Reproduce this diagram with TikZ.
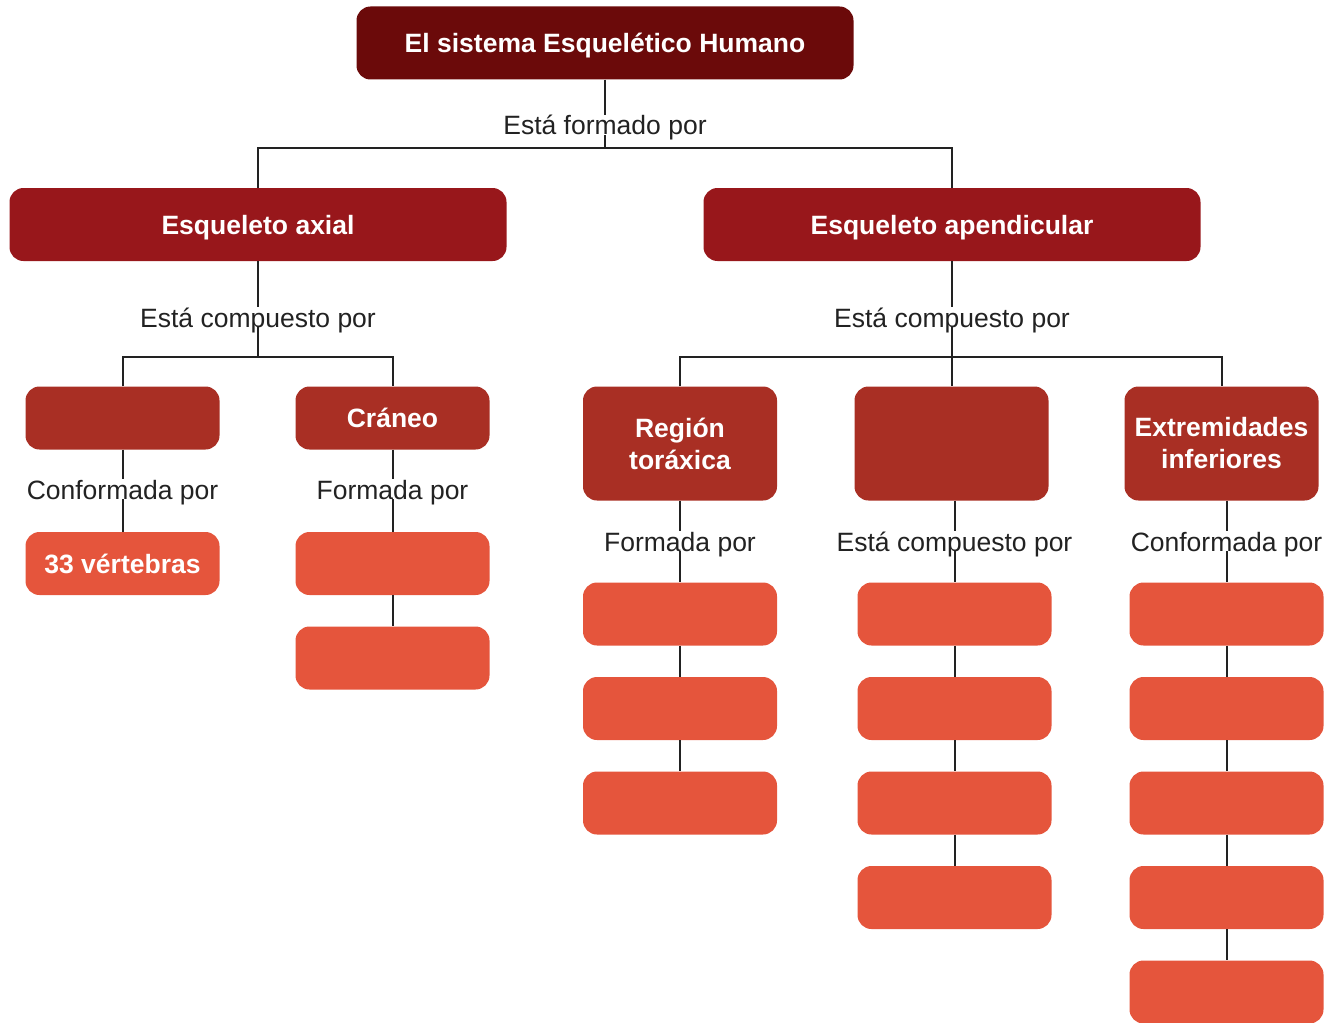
\documentclass[tikz,border=0pt]{standalone}
\usepackage{fontspec}
\setmainfont{Liberation Sans}
\definecolor{titlered}{HTML}{6B0A0A}
\definecolor{mainred}{HTML}{98171B}
\definecolor{subred}{HTML}{A92F24}
\definecolor{leafred}{HTML}{E5553C}
\definecolor{labelgray}{HTML}{222222}
\definecolor{linegray}{HTML}{222222}

\begin{document}
\begin{tikzpicture}[x=1pt, y=-1pt,
  box/.style={rounded corners=14pt, text=white, align=center, inner sep=0pt,
    font=\bfseries\fontsize{26.5}{32}\selectfont},
  onebox/.style={box, text height=21pt, text depth=2pt},
  titlebox/.style={onebox, fill=titlered, minimum width=497pt, minimum height=73pt},
  mainbox/.style={onebox, fill=mainred, minimum width=497pt, minimum height=73pt},
  subbox/.style={onebox, fill=subred, minimum width=194pt, minimum height=63pt},
  tallbox/.style={box, fill=subred, minimum width=194pt, minimum height=114pt},
  leafbox/.style={onebox, fill=leafred, minimum width=194pt, minimum height=63pt},
  lbl/.style={fill=white, inner sep=0pt, anchor=base, text=labelgray,
    text height=19.5pt, text depth=0pt, font=\fontsize{26.5}{32}\selectfont},
  link/.style={draw=linegray, line width=2pt}]
  \useasboundingbox (0,0) rectangle (1337,1022);

  % top levels
  \node[titlebox] (sistema) at (605,43) {El sistema Esquelético Humano};
  \node[lbl] (formado) at (605,135) {Está formado por};
  \coordinate (busTop) at (605,148);
  \node[mainbox] (axial) at (258,224.5) {Esqueleto axial};
  \node[mainbox] (apend) at (952,224.5) {Esqueleto apendicular};

  \draw[link] (sistema) -- (formado) -- (busTop);
  \draw[link] (axial.north) |- (busTop) -| (apend.north);

  % esqueleto axial
  \node[lbl] (compAxial) at (258,327) {Está compuesto por};
  \coordinate (busAxial) at (258,357);
  \node[subbox] (columna) at (122.5,418) {};
  \node[subbox] (craneo) at (392.5,418) {Cráneo};
  \node[lbl] (confCol) at (122.5,499) {Conformada por};
  \node[lbl] (formCran) at (392.5,499) {Formada por};
  \node[leafbox] (vertebras) at (122.5,563.5) {33 vértebras};
  \node[leafbox] (cranA) at (392.5,563.5) {};
  \node[leafbox] (cranB) at (392.5,658) {};

  \draw[link] (axial) -- (compAxial) -- (busAxial);
  \draw[link] (columna.north) |- (busAxial) -| (craneo.north);
  \draw[link] (columna) -- (confCol) -- (vertebras);
  \draw[link] (craneo) -- (formCran) -- (cranA) -- (cranB);

  % esqueleto apendicular
  \node[lbl] (compApend) at (952,327) {Está compuesto por};
  \coordinate (busApend) at (952,357);
  \node[tallbox] (torax) at (680,443.5) {Región\\toráxica};
  \node[tallbox] (superior) at (951.5,443.5) {};
  \node[tallbox] (inferior) at (1221.5,443.5) {Extremidades\\inferiores};

  \draw[link] (apend) -- (compApend) -- (busApend);
  \draw[link] (torax.north) |- (busApend) -| (inferior.north);
  \draw[link] (superior.north |- busApend) -- (superior.north);

  % region toraxica
  \node[lbl] (formTor) at (680,551) {Formada por};
  \node[leafbox] (torA) at (680,614) {};
  \node[leafbox] (torB) at (680,708.5) {};
  \node[leafbox] (torC) at (680,803) {};
  \draw[link] (torax) -- (formTor) -- (torA) -- (torB) -- (torC);

  % extremidades superiores
  \node[lbl] (compSup) at (954.5,551) {Está compuesto por};
  \node[leafbox] (supA) at (954.5,614) {};
  \node[leafbox] (supB) at (954.5,708.5) {};
  \node[leafbox] (supC) at (954.5,803) {};
  \node[leafbox] (supD) at (954.5,897.5) {};
  \draw[link] (compSup.north |- superior.south) -- (compSup.north);
  \draw[link] (compSup) -- (supA) -- (supB) -- (supC) -- (supD);

  % extremidades inferiores
  \node[lbl] (confInf) at (1226.5,551) {Conformada por};
  \node[leafbox] (infA) at (1226.5,614) {};
  \node[leafbox] (infB) at (1226.5,708.5) {};
  \node[leafbox] (infC) at (1226.5,803) {};
  \node[leafbox] (infD) at (1226.5,897.5) {};
  \node[leafbox] (infE) at (1226.5,992) {};
  \draw[link] (confInf.north |- inferior.south) -- (confInf.north);
  \draw[link] (confInf) -- (infA) -- (infB) -- (infC) -- (infD) -- (infE);
\end{tikzpicture}
\end{document}
